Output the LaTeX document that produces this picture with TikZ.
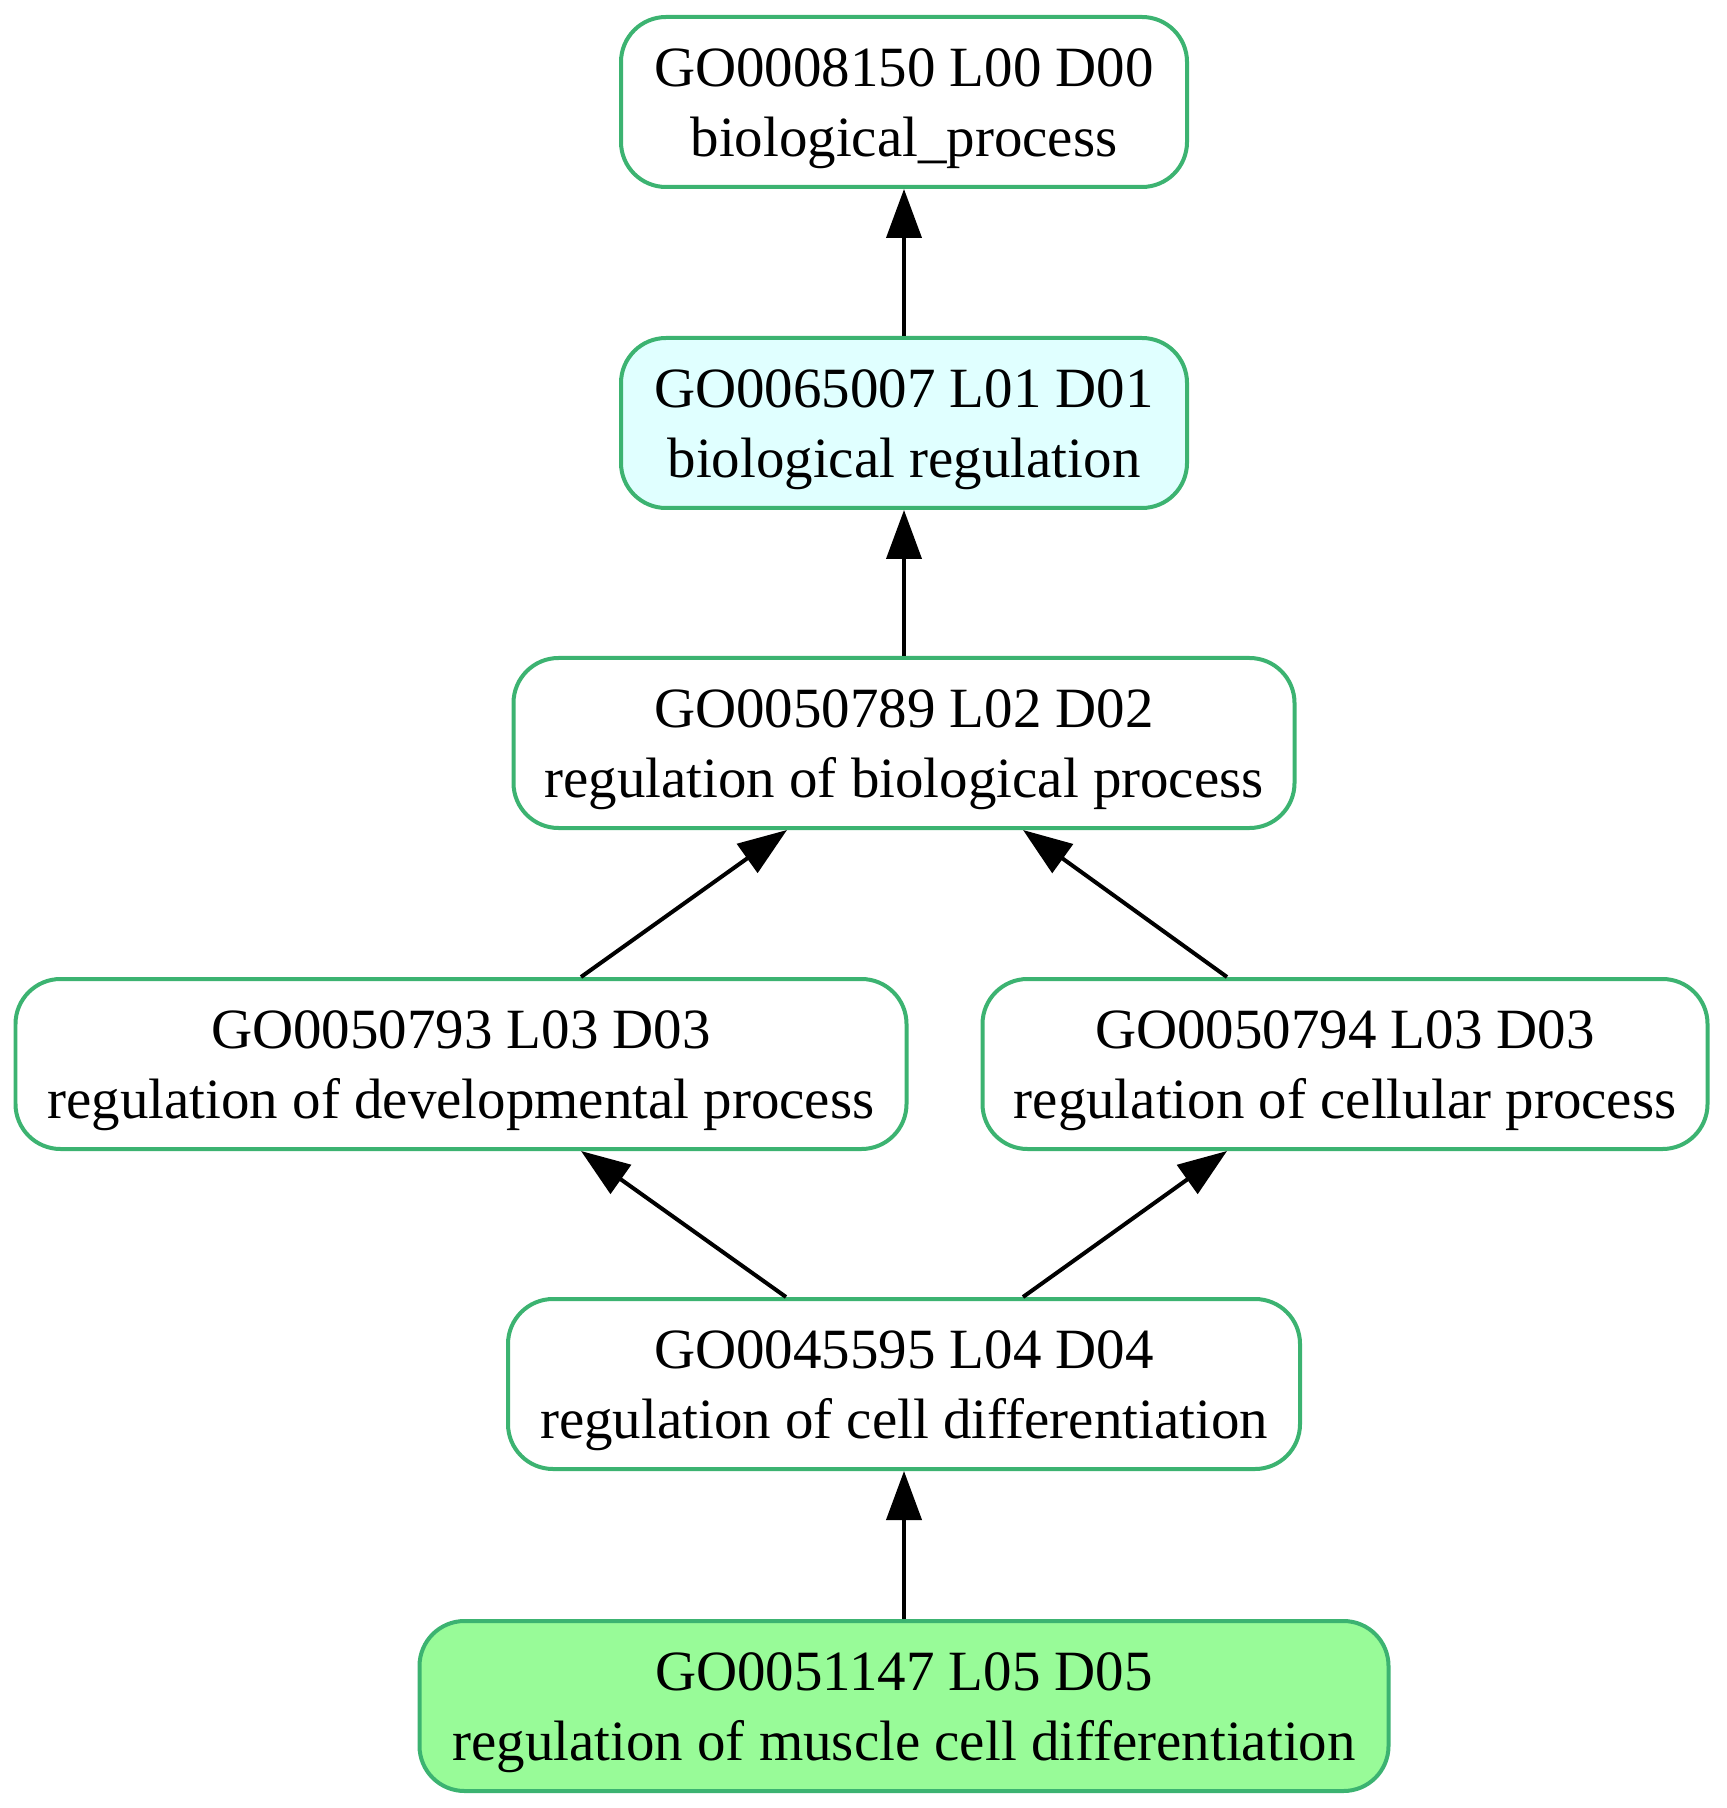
\documentclass[tikz,border=0pt]{standalone}
\usepackage{fontspec}
\setmainfont{Liberation Serif}
\usepackage{xcolor}
\usetikzlibrary{arrows.meta}
\definecolor{SeaGreen}{HTML}{3CB371}
\definecolor{LightCyan}{HTML}{E0FFFF}
\definecolor{PaleGreen}{HTML}{98FB98}

\begin{document}
\begin{tikzpicture}[
  goterm/.style={draw=SeaGreen, line width=0.04cm, rounded corners=0.45cm,
    fill=white, align=center, inner sep=0pt, minimum height=1.70cm,
    text height=36pt, text depth=4.8pt,
    font=\fontsize{16.2}{19.9}\selectfont},
  isa/.style={line width=0.04cm, -{Triangle[length=0.49cm,width=0.35cm]}}]
  \useasboundingbox (0,0) rectangle (17.26,-18.08);

  \node[goterm, minimum width=5.66cm] (Root) at (9.04,-1.02)
    {GO0008150 L00 D00\\biological\_process};
  \node[goterm, minimum width=5.66cm, fill=LightCyan] (BioReg) at (9.04,-4.23)
    {GO0065007 L01 D01\\biological regulation};
  \node[goterm, minimum width=7.81cm] (RegBio) at (9.04,-7.43)
    {GO0050789 L02 D02\\regulation of biological process};
  \node[goterm, minimum width=8.91cm] (RegDev) at (4.61,-10.64)
    {GO0050793 L03 D03\\regulation of developmental process};
  \node[goterm, minimum width=7.25cm] (RegCell) at (13.45,-10.64)
    {GO0050794 L03 D03\\regulation of cellular process};
  \node[goterm, minimum width=7.92cm] (RegDiff) at (9.04,-13.84)
    {GO0045595 L04 D04\\regulation of cell differentiation};
  \node[goterm, minimum width=9.69cm, fill=PaleGreen] (RegMuscle) at (9.04,-17.06)
    {GO0051147 L05 D05\\regulation of muscle cell differentiation};

  \draw[isa] (BioReg) -- (Root);
  \draw[isa] (RegBio) -- (BioReg);
  \draw[isa] ([xshift=1.20cm]RegDev.north) -- ([xshift=-1.17cm]RegBio.south);
  \draw[isa] ([xshift=-1.18cm]RegCell.north) -- ([xshift=1.19cm]RegBio.south);
  \draw[isa] ([xshift=-1.18cm]RegDiff.north) -- ([xshift=1.20cm]RegDev.south);
  \draw[isa] ([xshift=1.19cm]RegDiff.north) -- ([xshift=-1.18cm]RegCell.south);
  \draw[isa] (RegMuscle) -- (RegDiff);
\end{tikzpicture}
\end{document}
